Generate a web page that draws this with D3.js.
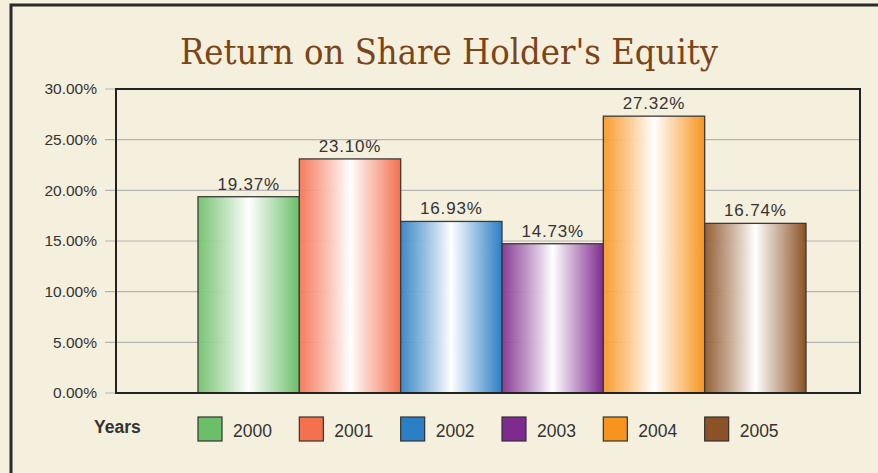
<!DOCTYPE html>
<html lang="en">
<head>
<meta charset="UTF-8">
<title>Return on Share Holder's Equity</title>
<script src="https://cdnjs.cloudflare.com/ajax/libs/d3/7.8.5/d3.min.js"></script>
<style>
    body { margin: 0; background: #f5f0dd; }
    * { font-family: "Liberation Sans", Arial, sans-serif; }
</style>
</head>
<body>
<div id="chart"></div>
<script>
    // Data
    var years = ["2000", "2001", "2002", "2003", "2004", "2005"];
    var values = [19.37, 23.10, 16.93, 14.73, 27.32, 16.74];
    var colors = ["#6bbf68", "#f4704f", "#2b7fc5", "#7e2a8e", "#f7941e", "#8b5225"];
    var yTicks = [0, 5, 10, 15, 20, 25, 30];

    var w = 878, h = 473;
    var plot = {left: 116, top: 89, right: 860, bottom: 393};

    var svg = d3.select("#chart").append("svg")
        .attr("width", w)
        .attr("height", h);

    // Gradients for glossy bars
    var defs = svg.append("defs");
    years.forEach(function(y, i) {
        var g = defs.append("linearGradient")
            .attr("id", "grad" + i)
            .attr("x1", "0%").attr("x2", "100%").attr("y1", "0%").attr("y2", "0%");
        g.append("stop").attr("offset", "0%").attr("stop-color", colors[i]).attr("stop-opacity", 0.9);
        g.append("stop").attr("offset", "50%").attr("stop-color", "#ffffff");
        g.append("stop").attr("offset", "100%").attr("stop-color", colors[i]);
    });

    // Background and outer frame
    svg.append("rect")
        .attr("x", 0).attr("y", 0).attr("width", w).attr("height", h)
        .attr("fill", "#f5f0dd");
    svg.append("rect")
        .attr("x", 11).attr("y", 5).attr("width", w + 20).attr("height", h + 20)
        .attr("fill", "none")
        .attr("stroke", "#2b2b2b")
        .attr("stroke-width", 3);

    // Title
    svg.append("text")
        .attr("x", 449)
        .attr("y", 64)
        .attr("text-anchor", "middle")
        .attr("fill", "#7a4519")
        .style("font-family", "'DejaVu Serif Condensed', 'DejaVu Serif', serif")
        .style("font-stretch", "condensed")
        .style("font-size", "36px")
        .text("Return on Share Holder's Equity");

    // Scales
    var xScale = d3.scaleBand()
        .domain(years)
        .range([198, 806])
        .padding(0);

    var yScale = d3.scaleLinear()
        .domain([0, 30])
        .range([plot.bottom, plot.top]);

    // Gridlines
    svg.append("g")
        .selectAll("line")
        .data(yTicks)
        .enter()
        .append("line")
        .attr("x1", plot.left - 11)
        .attr("x2", plot.right)
        .attr("y1", function(d) { return yScale(d); })
        .attr("y2", function(d) { return yScale(d); })
        .attr("stroke", "#b4b4b4")
        .attr("stroke-width", 1.2);

    // Y axis labels
    var yAxis = d3.axisLeft(yScale)
        .tickValues(yTicks)
        .tickSize(0)
        .tickPadding(19)
        .tickFormat(function(d) { return d.toFixed(2) + "%"; });

    var ay = svg.append("g")
        .attr("transform", "translate(" + plot.left + ",0)")
        .call(yAxis);
    ay.select(".domain").remove();
    ay.selectAll("text")
        .attr("fill", "#333")
        .style("font-size", "15.5px");

    // Bars
    svg.selectAll(".bar")
        .data(values)
        .enter()
        .append("rect")
        .attr("class", "bar")
        .attr("x", function(d, i) { return xScale(years[i]); })
        .attr("y", function(d) { return yScale(d); })
        .attr("width", xScale.bandwidth())
        .attr("height", function(d) { return yScale(0) - yScale(d); })
        .attr("fill", function(d, i) { return "url(#grad" + i + ")"; })
        .attr("stroke", "#3a3a3a")
        .attr("stroke-width", 1.3);

    // Value labels
    svg.selectAll(".val")
        .data(values)
        .enter()
        .append("text")
        .attr("class", "val")
        .attr("x", function(d, i) { return xScale(years[i]) + xScale.bandwidth() / 2; })
        .attr("y", function(d) { return yScale(d) - 7; })
        .attr("text-anchor", "middle")
        .attr("fill", "#333")
        .style("font-size", "17px")
        .style("letter-spacing", "0.8px")
        .text(function(d) { return d.toFixed(2) + "%"; });

    // Plot frame
    svg.append("rect")
        .attr("x", plot.left).attr("y", plot.top)
        .attr("width", plot.right - plot.left)
        .attr("height", plot.bottom - plot.top)
        .attr("fill", "none")
        .attr("stroke", "#222")
        .attr("stroke-width", 2);

    // Legend
    svg.append("text")
        .attr("x", 94).attr("y", 433)
        .attr("fill", "#333")
        .style("font-size", "17.5px")
        .style("font-weight", "bold")
        .text("Years");

    var legend = svg.selectAll(".leg")
        .data(years)
        .enter()
        .append("g")
        .attr("class", "leg")
        .attr("transform", function(d) { return "translate(" + xScale(d) + ",417)"; });

    legend.append("rect")
        .attr("width", 24).attr("height", 24)
        .attr("fill", function(d, i) { return colors[i]; })
        .attr("stroke", "#333")
        .attr("stroke-width", 1.2);

    legend.append("text")
        .attr("x", 35).attr("y", 20)
        .attr("fill", "#333")
        .style("font-size", "17.5px")
        .text(function(d) { return d; });
</script>
</body>
</html>
